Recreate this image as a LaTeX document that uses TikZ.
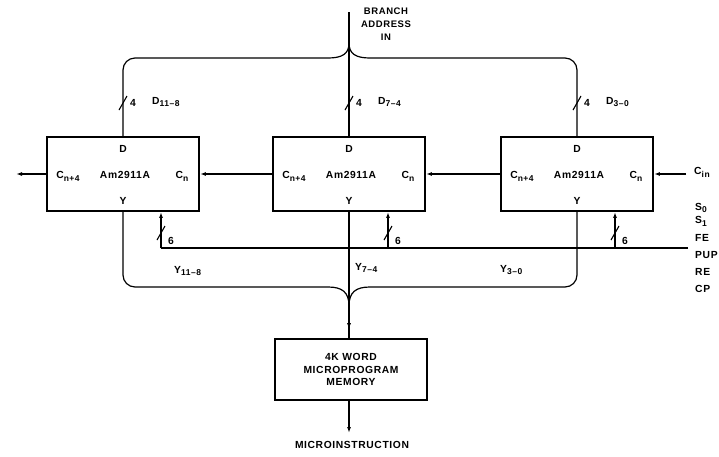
\documentclass[tikz,border=0pt]{standalone}
\usepackage{fontspec}
\setmainfont{Liberation Sans}[LetterSpace=6]
\usetikzlibrary{arrows.meta,decorations.markings}
\newcommand{\lo}[1]{\raisebox{-2.8pt}{\fontsize{8.5}{8.5}\selectfont #1}}
\begin{document}
\begin{tikzpicture}[x=1pt,y=-1pt,
  font=\fontsize{10.3}{12.5}\selectfont\bfseries,
  wire/.style={line width=1.2pt},
  chip/.style={draw, line width=1.9pt, minimum width=152pt, minimum height=74pt, inner sep=0pt},
  tip/.style={-{Latex[length=6pt,width=4pt]}},
  lbl/.style={inner sep=0pt},
  slashmark/.pic={\draw[line width=1.1pt] (-4,7) -- (4,-7);},
  midtip/.style={postaction=decorate, decoration={markings,
     mark=at position #1 with {\arrow{Latex[length=6pt,width=4pt]}}}},
]
\useasboundingbox (0,0) rectangle (719,456);

% chips
\node[chip] (b1) at (123,174) {};
\node[chip] (b2) at (349,174) {};
\node[chip] (b3) at (577,174) {};
\node[chip, minimum height=61pt, align=center] (mem) at (351,369.5) {4K WORD\\MICROPROGRAM\\MEMORY};

\foreach \b/\x in {1/123,2/349,3/577}{
  \node[lbl] (d\b) at (\x,149) {D};
  \node[lbl] (y\b) at (\x,201) {Y};
  \node[lbl] (a\b) at (\x+2,175) {Am2911A};
  \node[lbl] (co\b) at (\x-55,176) {C\lo{n+4}};
  \node[lbl] (ci\b) at (\x+59,176) {C\lo{n}};
}

% branch address bus
\coordinate (bin) at (349,12);
\coordinate (jt) at (349,43);
\coordinate (tl) at (123,58);
\coordinate (tr) at (577,58);
\node[lbl, align=center, font=\fontsize{9.5}{13}\selectfont\bfseries] (ba) at (386,24) {BRANCH\\ADDRESS\\IN};
\draw[wire] (bin) -- (b2.north);
\draw[wire] (jt) .. controls (349,54) and (342,58) .. (328,58) [rounded corners=12pt] -- (tl) -- (b1.north);
\draw[wire] (jt) .. controls (349,54) and (356,58) .. (370,58) [rounded corners=12pt] -- (tr) -- (b3.north);

\foreach \b/\x/\t in {1/123/11–8,2/349/7–4,3/577/3–0}{
  \pic at (\x,103) {slashmark};
  \node[lbl] (n4\b) at (\x+10,103) {4};
  \node[lbl, anchor=west] (dl\b) at (\x+29,102) {D\lo{\t}};
}

% carry chain
\coordinate (cout) at (16,174);
\coordinate (cin) at (686,174);
\draw[wire,tip] (b1.west) -- (cout);
\draw[wire,tip] (b2.west) -- (b1.east);
\draw[wire,tip] (b3.west) -- (b2.east);
\draw[wire,tip] (cin) -- (b3.east);
\node[lbl, anchor=west] (cinl) at (694,172) {C\lo{in}};

% control bus
\coordinate (ce) at (688,248);
\coordinate (c1) at (161,248);
\coordinate (c2) at (388,248);
\coordinate (c3) at (615,248);
\draw[wire] (ce) -- (c1);
\foreach \i/\bb in {1/b1,2/b2,3/b3}{
  \draw[wire,tip] (c\i) -- (c\i |- \bb.south);
}
\foreach \i/\x in {1/161,2/388,3/615}{
  \pic at (\x,233) {slashmark};
  \node[lbl] (n6\i) at (\x+10,241) {6};
}
\foreach \i/\t/\yy in {1/S\lo{0}/208,2/S\lo{1}/221,3/FE/238,4/PUP/255,5/RE/272,6/CP/289}{
  \node[lbl, anchor=west] (s\i) at (695,\yy) {\t};
}

% Y outputs bus
\coordinate (jb) at (349,306);
\coordinate (bl) at (123,287);
\coordinate (br) at (577,287);
\draw[wire] (jb) .. controls (349,292) and (342,287) .. (328,287) [rounded corners=12pt] -- (bl) -- (b1.south);
\draw[wire] (jb) .. controls (349,292) and (356,287) .. (370,287) [rounded corners=12pt] -- (br) -- (b3.south);
\draw[wire, midtip=0.93] (b2.south) -- (b2.south |- mem.north);
\node[lbl, anchor=west] (yl1) at (174,271) {Y\lo{11–8}};
\node[lbl, anchor=west] (yl2) at (355,268) {Y\lo{7–4}};
\node[lbl, anchor=west] (yl3) at (500,270) {Y\lo{3–0}};

% output
\coordinate (mo) at (349,433);
\draw[wire,tip] (mem.south -| b2.south) -- (mo);
\node[lbl] (mi) at (352,445) {MICROINSTRUCTION};
\end{tikzpicture}
\end{document}
